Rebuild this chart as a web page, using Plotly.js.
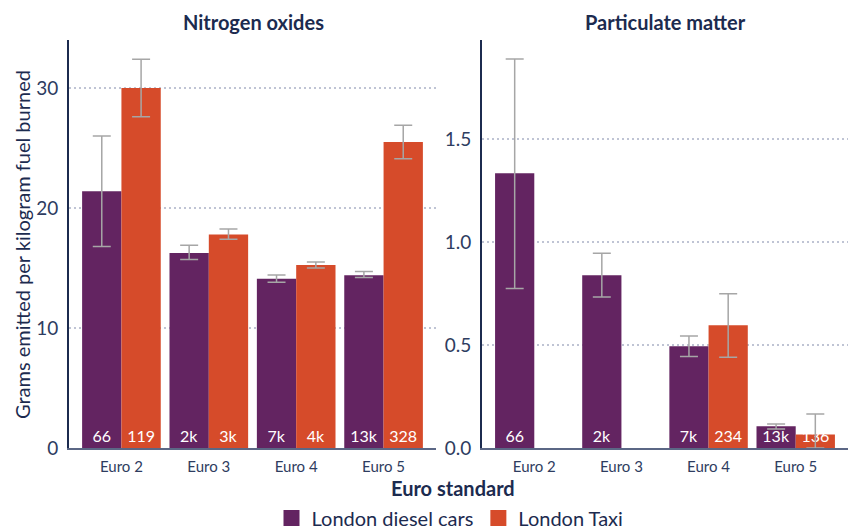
<!DOCTYPE html>
<html>
<head>
<meta charset="utf-8">
<script src="https://cdn.plot.ly/plotly-3.0.1.min.js"></script>
<style>html,body{margin:0;padding:0;background:#fff}#chart{width:854px;height:530px}</style>
</head>
<body>
<div id="chart"></div>
<script>
// Categories
var categories = ['Euro 2', 'Euro 3', 'Euro 4', 'Euro 5'];

// Nitrogen oxides (g per kg fuel)
var noxDiesel = [21.4, 16.25, 14.1, 14.4];
var noxDieselErrPlus = [4.6, 0.65, 0.32, 0.3];
var noxDieselErrMinus = [4.6, 0.55, 0.28, 0.2];
var noxDieselN = ['66', '2k', '7k', '13k'];

var noxTaxi = [30.0, 17.8, 15.25, 25.5];
var noxTaxiErrPlus = [2.4, 0.45, 0.25, 1.4];
var noxTaxiErrMinus = [2.4, 0.4, 0.25, 1.4];
var noxTaxiN = ['119', '3k', '4k', '328'];

// Particulate matter (g per kg fuel)
var pmDiesel = [1.333, 0.838, 0.494, 0.105];
var pmDieselErrPlus = [0.555, 0.107, 0.05, 0.012];
var pmDieselErrMinus = [0.559, 0.105, 0.05, 0.013];
var pmDieselN = ['66', '2k', '7k', '13k'];

var pmTaxi = [null, null, 0.596, 0.066];
var pmTaxiErrPlus = [null, null, 0.152, 0.099];
var pmTaxiErrMinus = [null, null, 0.156, 0.066];
var pmTaxiN = ['', '', '234', '136'];

// Tick values
var noxTicks = [0, 10, 20, 30];
var pmTicks = [0, 0.5, 1.0, 1.5];

// Series names
var seriesNames = ['London diesel cars', 'London Taxi'];

var PURPLE = '#632461';
var ORANGE = '#d64b2a';
var NAVY = '#1c2b4f';
var TICK = '#2e3c60';
var FONT = 'Lato, "Open Sans", sans-serif';

function barTrace(name, y, plus, minus, txt, color, xa, ya) {
  return {
    type: 'bar', name: name, x: categories, y: y,
    xaxis: xa, yaxis: ya,
    marker: {color: color},
    text: txt, textposition: 'inside', insidetextanchor: 'start',
    textangle: 0, constraintext: 'none',
    textfont: {color: '#ffffff', size: 16, family: FONT},
    error_y: {type: 'data', symmetric: false, array: plus, arrayminus: minus,
              color: '#a6a6a6', thickness: 1.5, width: 9},
    showlegend: false, legendgroup: name, hoverinfo: 'x+y'
  };
}

function legendTrace(name, color) {
  return {
    type: 'scatter', mode: 'markers', name: name, x: [null], y: [null],
    xaxis: 'x', yaxis: 'y',
    marker: {symbol: 'square', size: 16, color: color},
    showlegend: true, legendgroup: name, hoverinfo: 'skip'
  };
}

var data = [
  barTrace(seriesNames[0], noxDiesel, noxDieselErrPlus, noxDieselErrMinus, noxDieselN, PURPLE, 'x', 'y'),
  barTrace(seriesNames[1], noxTaxi, noxTaxiErrPlus, noxTaxiErrMinus, noxTaxiN, ORANGE, 'x', 'y'),
  barTrace(seriesNames[0], pmDiesel, pmDieselErrPlus, pmDieselErrMinus, pmDieselN, PURPLE, 'x2', 'y2'),
  barTrace(seriesNames[1], pmTaxi, pmTaxiErrPlus, pmTaxiErrMinus, pmTaxiN, ORANGE, 'x2', 'y2'),
  legendTrace(seriesNames[0], PURPLE),
  legendTrace(seriesNames[1], ORANGE)
];

var W = 854, H = 530;
function px(v) { return v / W; }
function py(v) { return (H - v) / H; }

var xCommon = {
  type: 'category', range: [-0.6, 3.6], showgrid: false, zeroline: false,
  showline: true, linecolor: '#5b6785', linewidth: 2, ticks: '',
  tickfont: {size: 15, color: TICK, family: FONT}, ticklabelstandoff: 4,
  fixedrange: true
};
var yCommon = {
  showgrid: true, gridcolor: '#bfc4d4', griddash: '2px,3px', gridwidth: 1.5,
  zeroline: false, showline: true, linecolor: NAVY, linewidth: 2, ticks: '',
  tickfont: {size: 19, color: TICK, family: FONT}, ticklabelstandoff: 5,
  fixedrange: true
};

var layout = {
  width: W, height: H,
  margin: {l: 0, r: 0, t: 0, b: 0, autoexpand: false},
  paper_bgcolor: '#ffffff', plot_bgcolor: '#ffffff',
  font: {family: FONT, color: NAVY},
  barmode: 'group', bargap: 0.1, bargroupgap: 0,
  xaxis: Object.assign({}, xCommon, {domain: [px(69), px(436)], anchor: 'y'}),
  yaxis: Object.assign({}, yCommon, {domain: [py(448), py(40)], anchor: 'x',
          range: [0, 34], tickvals: noxTicks, ticktext: noxTicks.map(String)}),
  xaxis2: Object.assign({}, xCommon, {domain: [px(482), px(848)], anchor: 'y2'}),
  yaxis2: Object.assign({}, yCommon, {domain: [py(448), py(40)], anchor: 'x2',
          range: [0, 1.98], tickvals: pmTicks, ticktext: pmTicks.map(function(v){return v.toFixed(1);})}),
  showlegend: true,
  legend: {orientation: 'h', x: px(450), xanchor: 'center', y: py(518), yanchor: 'middle',
           font: {size: 20, color: NAVY, family: FONT}, itemclick: false, itemdoubleclick: false,
           traceorder: 'normal', itemwidth: 30, bgcolor: 'rgba(0,0,0,0)'},
  annotations: [
    {text: '<b>Nitrogen oxides</b>', xref: 'paper', yref: 'paper', x: px(253), y: py(22),
     xanchor: 'center', yanchor: 'middle', showarrow: false, font: {size: 20, color: NAVY, family: FONT}},
    {text: '<b>Particulate matter</b>', xref: 'paper', yref: 'paper', x: px(665), y: py(22),
     xanchor: 'center', yanchor: 'middle', showarrow: false, font: {size: 20, color: NAVY, family: FONT}},
    {text: 'Grams emitted per kilogram fuel burned', xref: 'paper', yref: 'paper', x: px(22), y: py(245),
     xanchor: 'center', yanchor: 'middle', textangle: -90, showarrow: false,
     font: {size: 20, color: NAVY, family: FONT}},
    {text: '<b>Euro standard</b>', xref: 'paper', yref: 'paper', x: px(453), y: py(488),
     xanchor: 'center', yanchor: 'middle', showarrow: false, font: {size: 20, color: NAVY, family: FONT}}
  ]
};

Plotly.newPlot('chart', data, layout, {displayModeBar: false, staticPlot: true});
</script>
</body>
</html>
